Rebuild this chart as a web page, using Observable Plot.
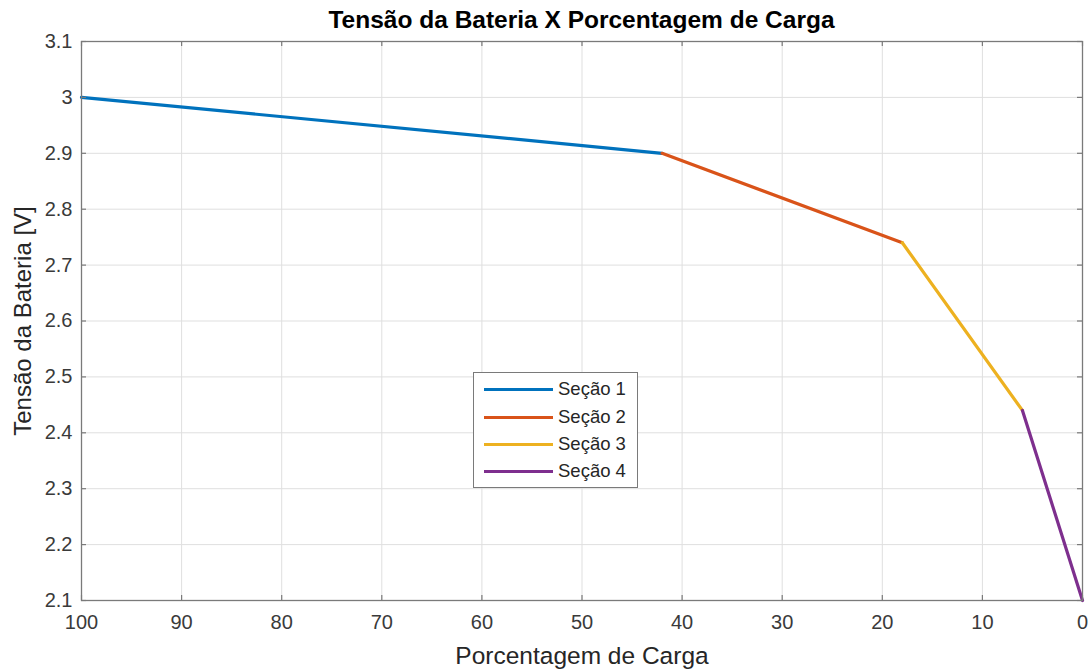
<!DOCTYPE html>
<html>
<head>
<meta charset="utf-8">
<script src="https://cdn.jsdelivr.net/npm/d3@7"></script>
<script src="https://cdn.jsdelivr.net/npm/@observablehq/plot@0.6"></script>
<style>
  html, body { margin: 0; padding: 0; background: #fff; }
  body { width: 1090px; height: 669px; position: relative; overflow: hidden; font-family: "Liberation Sans", Arial, sans-serif; }
  #title { height: 30px; box-sizing: border-box; padding-top: 8px; padding-left: 81px; width: 1082px;
           text-align: center; font-weight: bold; font-size: 24.5px; line-height: 24px; color: #000; white-space: nowrap; }
  #legend { position: absolute; left: 473px; top: 372px; width: 165px; height: 116px; box-sizing: border-box;
            border: 1.5px solid #7a7a7a; background: #fff; }
  .row { position: absolute; left: 0; height: 0; }
  .row .sw { position: absolute; left: 10px; width: 69px; height: 3px; top: -1.5px; }
  .row .lb { position: absolute; left: 84px; top: -11px; font-size: 18.5px; line-height: 22px; color: #262626; white-space: nowrap; }
</style>
</head>
<body>
<div id="title">Tensão da Bateria X Porcentagem de Carga</div>
<div id="chart"></div>
<div id="legend"></div>
<script>
// ---- data ----
const sections = ["Seção 1", "Seção 2", "Seção 3", "Seção 4"];
const sectionColors = ["#0072BD", "#D95319", "#EDB120", "#7E2F8E"];
const carga = [100, 42, 18, 6, 0];          // Porcentagem de Carga (breakpoints)
const tensao = [3.0, 2.9, 2.74, 2.44, 2.1]; // Tensão da Bateria [V]
const xTicks = [0, 10, 20, 30, 40, 50, 60, 70, 80, 90, 100];
const yTicks = [2.1, 2.2, 2.3, 2.4, 2.5, 2.6, 2.7, 2.8, 2.9, 3.0, 3.1];
const xLabel = "Porcentagem de Carga";
const yLabel = "Tensão da Bateria [V]";

// segments built from the arrays above
const rows = sections.flatMap((s, i) => [
  {s, x: carga[i], y: tensao[i]},
  {s, x: carga[i + 1], y: tensao[i + 1]}
]);

const W = 1090, H = 639;
const mt = 11, mb = 69, ml = 81, mr = 8;
const fw = W - ml - mr, fh = H - mt - mb;
const tickLen = 5;
const axisColor = "#7a7a7a";

const chart = Plot.plot({
  width: W, height: H,
  marginTop: mt, marginBottom: mb, marginLeft: ml, marginRight: mr,
  style: {fontFamily: "'Liberation Sans', Arial, sans-serif", fontSize: "20px", color: "#3a3a3a", background: "#fff", overflow: "visible"},
  x: {domain: [100, 0], label: null},
  y: {domain: [2.1, 3.1], label: null},
  color: {domain: sections, range: sectionColors},
  marks: [
    Plot.gridX(xTicks, {stroke: "#dfdfdf", strokeOpacity: 1, strokeWidth: 1}),
    Plot.gridY(yTicks, {stroke: "#dfdfdf", strokeOpacity: 1, strokeWidth: 1}),
    Plot.line(rows, {x: "x", y: "y", z: "s", stroke: "s", strokeWidth: 3.2}),
    Plot.frame({stroke: axisColor, strokeWidth: 1.3}),
    // inward tick marks (MATLAB style) on all four sides
    Plot.tickX(xTicks, {x: d => d, insetTop: fh - tickLen, stroke: axisColor, strokeWidth: 1.2}),
    Plot.tickX(xTicks, {x: d => d, insetBottom: fh - tickLen, stroke: axisColor, strokeWidth: 1.2}),
    Plot.tickY(yTicks, {y: d => d, insetRight: fw - tickLen, stroke: axisColor, strokeWidth: 1.2}),
    Plot.tickY(yTicks, {y: d => d, insetLeft: fw - tickLen, stroke: axisColor, strokeWidth: 1.2}),
    Plot.axisX(xTicks, {tickSize: 0, tickPadding: 14, fontSize: 20, label: null, tickFormat: d => String(d)}),
    Plot.axisY(yTicks, {tickSize: 0, tickPadding: 9, fontSize: 20, label: null, tickFormat: d => String(+d.toFixed(1))}),
    Plot.text([xLabel], {text: d => d, frameAnchor: "bottom", dy: 56, fontSize: 24.5, fill: "#262626", lineAnchor: "middle", textAnchor: "middle"}),
    Plot.text([yLabel], {text: d => d, frameAnchor: "left", dx: -58, rotate: -90, fontSize: 24, fill: "#262626", lineAnchor: "middle", textAnchor: "middle"})
  ]
});
document.getElementById("chart").appendChild(chart);

// legend
const legend = document.getElementById("legend");
const rowTops = [16, 44, 71, 98];
sections.forEach((s, i) => {
  const r = document.createElement("div");
  r.className = "row";
  r.style.top = rowTops[i] + "px";
  r.innerHTML = `<div class="sw" style="background:${sectionColors[i]}"></div><div class="lb">${s}</div>`;
  legend.appendChild(r);
});
</script>
</body>
</html>
